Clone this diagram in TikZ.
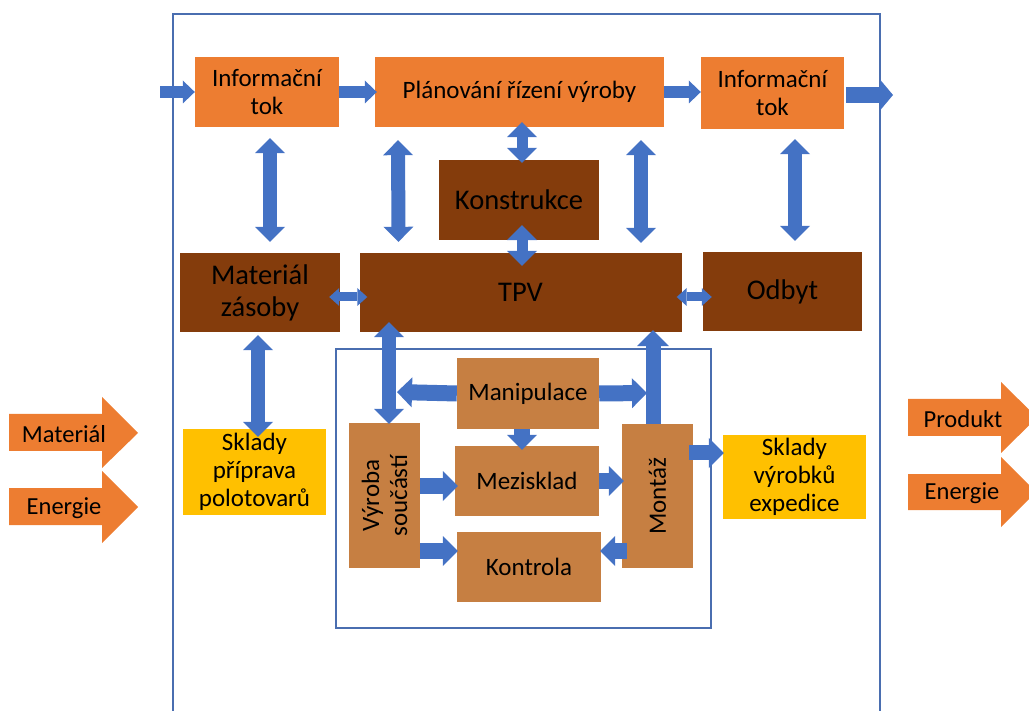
\documentclass[tikz,border=0pt]{standalone}
\usepackage{fontspec}
\setmainfont{Carlito}
\usetikzlibrary{arrows.meta}
\definecolor{infoorange}{HTML}{ED7D31}
\definecolor{deptbrown}{HTML}{843C0C}
\definecolor{shoptan}{HTML}{C67F42}
\definecolor{storeyellow}{HTML}{FFC000}
\definecolor{flowblue}{HTML}{4472C4}
\definecolor{lineblue}{HTML}{4A6EB0}
\tikzset{
  bighead/.tip={Triangle[width=30pt,length=15pt,line width=0pt]},
  midhead/.tip={Triangle[width=23pt,length=12pt,line width=0pt]},
  tinyhead/.tip={Triangle[width=18pt,length=10pt,line width=0pt]},
  blockbox/.style={inner sep=0pt, align=center, text=black,
    font=\fontsize{25}{28}\selectfont},
  infobox/.style={blockbox, fill=infoorange},
  deptbox/.style={blockbox, fill=deptbrown, font=\fontsize{28.5}{32}\selectfont},
  shopbox/.style={blockbox, fill=shoptan},
  storebox/.style={blockbox, fill=storeyellow},
  flowone/.style={draw=flowblue, line width=15pt, -{bighead}},
  flowtwo/.style={draw=flowblue, line width=14pt, {bighead}-{bighead}},
  flowsmall/.style={draw=flowblue, line width=12pt, -{midhead}},
  flowtiny/.style={draw=flowblue, line width=9pt, {tinyhead}-{tinyhead}},
  outline/.style={draw=lineblue, line width=1.3pt},
  bigarrow/.style={fill=infoorange},
  biglabel/.style={inner sep=0pt, text=black, font=\fontsize{24.5}{27}\selectfont},
}
\begin{document}
\begin{tikzpicture}[x=1pt, y=-1pt]
\useasboundingbox (0,0) rectangle (1029,711);
\clip (0,0) rectangle (1029,711);

% frames
\draw[outline] (173,14) rectangle (880,730);
\draw[outline] (336,349) rectangle (711,628);

% incoming and outgoing material/energy
\fill[bigarrow] (9,414) -- (102,414) -- (102,397) -- (138,433) -- (102,468) -- (102,451) -- (9,451) -- cycle;
\fill[bigarrow] (9,488) -- (102,488) -- (102,471) -- (138,507) -- (102,543) -- (102,525) -- (9,525) -- cycle;
\fill[bigarrow] (908,399) -- (1001,399) -- (1001,382) -- (1037,417.5) -- (1001,453) -- (1001,436) -- (908,436) -- cycle;
\fill[bigarrow] (908,474) -- (1001,474) -- (1001,457) -- (1036,492) -- (1001,527) -- (1001,510) -- (908,510) -- cycle;
\node[biglabel] (inmat) at (64,434) {Materiál};
\node[biglabel] (inen) at (64,508) {Energie};
\node[biglabel] (outprod) at (963,419) {Produkt};
\node[biglabel] (outen) at (962,493) {Energie};

% blocks
\node[infobox, minimum width=144pt, minimum height=70pt] (info1) at (267,92) {Informační\\tok};
\node[infobox, minimum width=289pt, minimum height=70pt] (plan) at (519.5,92) {Plánování řízení výroby};
\node[infobox, minimum width=143pt, minimum height=72pt] (info2) at (772.5,93) {Informační\\tok};
\node[deptbox, minimum width=160pt, minimum height=80pt] (kon) at (519,200) {Konstrukce};
\node[deptbox, minimum width=160pt, minimum height=79pt] (mat) at (260,292.5) {Materiál\\zásoby};
\node[deptbox, minimum width=322pt, minimum height=79pt] (tpv) at (520.5,292.5) {TPV};
\node[deptbox, minimum width=159pt, minimum height=79pt] (odbyt) at (782.5,291.5) {Odbyt};
\node[storebox, minimum width=143pt, minimum height=86pt] (skl1) at (254.5,472) {Sklady\\příprava\\polotovarů};
\node[storebox, minimum width=143pt, minimum height=84pt] (skl2) at (794.5,477) {Sklady\\výrobků\\expedice};
\node[shopbox, minimum width=142pt, minimum height=71pt] (manip) at (528,393.5) {Manipulace};
\node[shopbox, minimum width=144pt, minimum height=70pt] (mezi) at (527,481) {Mezisklad};
\node[shopbox, minimum width=144pt, minimum height=70pt] (kontr) at (529,567) {Kontrola};
\node[shopbox, minimum width=145pt, minimum height=71pt, rotate=90] (vyr) at (384.5,495.5) {Výroba\\součástí};
\node[shopbox, minimum width=144pt, minimum height=71pt, rotate=90] (montaz) at (657.5,496) {Montáž};

% free ends of the flows
\coordinate (infoin) at (160,92);
\coordinate (infoout) at (893,95);
\coordinate (manipL) at (397,392);
\coordinate (manipR) at (647,393);

% information flow along the top
\draw[flowsmall] (infoin) -- (info1.west);
\draw[flowsmall] (info1.east) -- ([xshift=2pt]plan.west);
\draw[flowsmall] (plan.east) -- (info2.west |- plan.east);
\draw[draw=flowblue, line width=16pt, -{Triangle[width=31pt,length=13pt,line width=0pt]}] ([xshift=2pt,yshift=-2pt]info2.east) -- (infoout);

% vertical links
\draw[flowtwo] ([xshift=3pt,yshift=-11pt]info1.south) -- ([xshift=10pt,yshift=11pt]mat.north);
\draw[flowtwo] ([xshift=-121.5pt,yshift=-13pt]plan.south) -- ([xshift=-122pt,yshift=11pt]tpv.north);
\draw[flowtwo] ([xshift=121.5pt,yshift=-13pt]plan.south) -- ([xshift=120.5pt,yshift=10pt]tpv.north);
\draw[flowtwo, line width=11pt] ([xshift=2.5pt,yshift=5pt]plan.south) -- ([xshift=3pt,yshift=-3pt]kon.north);
\draw[flowtwo, line width=11pt] ([xshift=3pt,yshift=15pt]kon.south) -- ([xshift=1.5pt,yshift=-13pt]tpv.north);
\draw[flowtwo] ([xshift=22.5pt,yshift=-10pt]info2.south) -- ([xshift=12.5pt,yshift=11pt]odbyt.north);
\draw[flowtwo] ([xshift=-2pt,yshift=-3pt]mat.south) -- ([xshift=3.5pt,yshift=-8pt]skl1.north);

% horizontal links between departments
\draw[flowtiny] ([xshift=-11pt,yshift=-4.5pt]mat.east) -- ([xshift=8pt,yshift=-4.5pt]tpv.west);
\draw[flowtiny] ([xshift=-5pt,yshift=-4.5pt]tpv.east) -- ([xshift=9pt,yshift=-5.5pt]odbyt.west);

% production shop
\draw[flowtwo] ([xshift=-131.5pt,yshift=10pt]tpv.south) -- ([xshift=4.5pt,yshift=-1pt]vyr.east);
\draw[flowone, line width=16pt] (manip.west) -- (manipL);
\draw[flowone, line width=16pt] (manip.east) -- (manipR);
\draw[draw=flowblue, line width=15pt, -{Triangle[width=32pt,length=16pt,line width=0pt]}] ([xshift=-4.5pt]montaz.east) -- ([xshift=132.5pt,yshift=2pt]tpv.south);
\draw[flowone, line width=16pt] ([xshift=-6pt]manip.south) -- ([xshift=-5pt,yshift=-4pt]mezi.north);
\draw[flowone, line width=16pt] ([yshift=9.5pt]vyr.south) -- ([xshift=3pt,yshift=-5pt]mezi.west);
\draw[flowone, line width=16pt] ([yshift=-55.5pt]vyr.south) -- ([xshift=1pt,yshift=16pt]kontr.west);
\draw[flowone, line width=16pt] (mezi.east) -- ([xshift=2pt,yshift=15pt]montaz.north);
\draw[flowone, line width=16pt] ([xshift=5pt,yshift=-55pt]montaz.north) -- ([xshift=-1pt,yshift=16pt]kontr.east);
\draw[flowone, line width=15pt] ([xshift=-4pt,yshift=43pt]montaz.south) -- ([xshift=1pt,yshift=24pt]skl2.west);
\end{tikzpicture}
\end{document}
